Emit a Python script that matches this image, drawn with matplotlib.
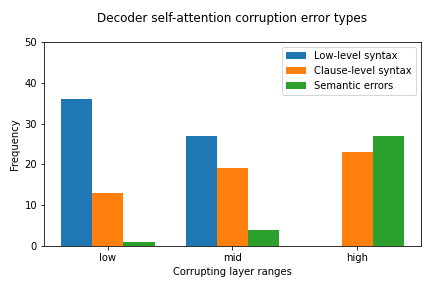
import matplotlib
matplotlib.use("Agg")
import matplotlib.pyplot as plt
import numpy as np

categories = ["low", "mid", "high"]
series_names = ["Low-level syntax", "Clause-level syntax", "Semantic errors"]
low_level = [36, 27, 0]
clause_level = [13, 19, 23]
semantic = [1, 4, 27]

fig = plt.figure(figsize=(6, 4), dpi=72)
ax = fig.add_axes([44/432, 42/288, (421-44)/432, (246-42)/288])
x = np.arange(len(categories))
w = 0.25
for i, (vals, name) in enumerate(zip([low_level, clause_level, semantic], series_names)):
    ax.bar(x + (i - 1) * w, vals, w, label=name)
ax.set_xticks(x)
ax.set_xticklabels(categories)
ax.set_ylim(0, 50)
ax.set_xlabel("Corrupting layer ranges")
ax.set_ylabel("Frequency")
ax.legend(loc="upper right")
ax.set_title("Decoder self-attention corruption error types", pad=20)
fig.savefig("out.png", dpi=72)
